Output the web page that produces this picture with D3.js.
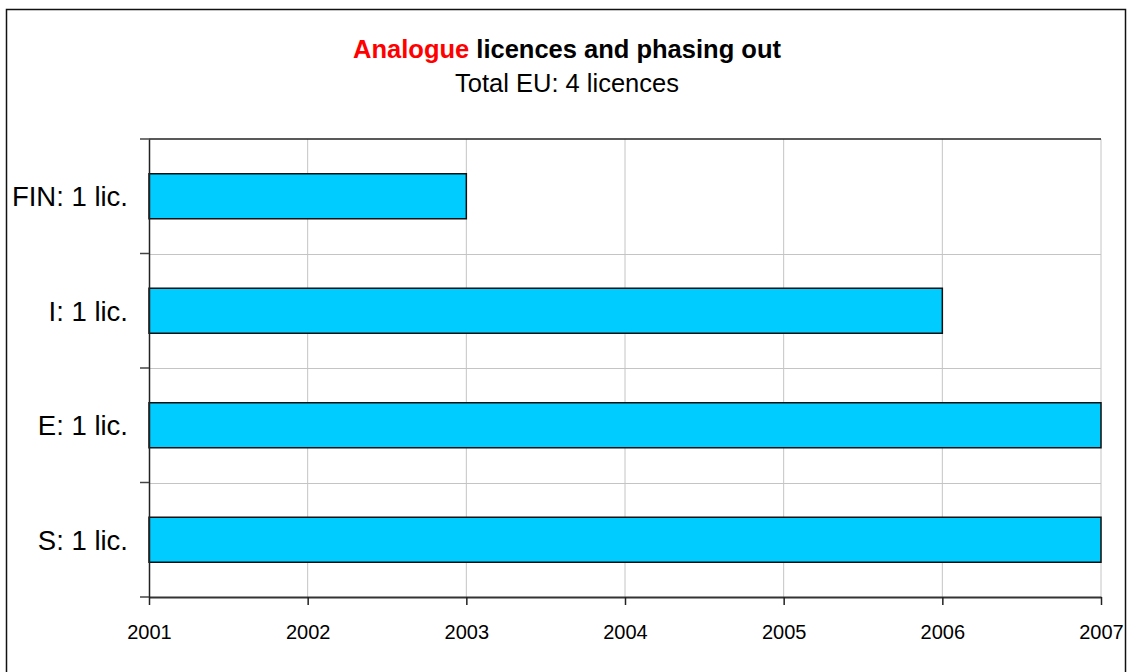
<!DOCTYPE html>
<html>
<head>
<meta charset="utf-8">
<script src="https://cdn.jsdelivr.net/npm/d3@7"></script>
<style>
  body { margin: 0; background: #fff; }
  svg { display: block; font-family: "Liberation Sans", Arial, sans-serif; }
</style>
</head>
<body>
<div id="chart"></div>
<script>
// data
var countries = ["FIN: 1 lic.", "I: 1 lic.", "E: 1 lic.", "S: 1 lic."];
var startYear = [2001, 2001, 2001, 2001];
var endYear = [2003, 2006, 2007, 2007];
var yearTicks = [2001, 2002, 2003, 2004, 2005, 2006, 2007];

var W = 1127, H = 672;
var margin = {left: 149, right: 26, top: 139, bottom: 75};

var svg = d3.select("#chart").append("svg")
    .attr("width", W)
    .attr("height", H);

// outer frame
svg.append("rect")
    .attr("x", 6.5).attr("y", 9.5)
    .attr("width", 1119).attr("height", 700)
    .attr("fill", "none")
    .attr("stroke", "#111")
    .attr("stroke-width", 1.5);

var x = d3.scaleLinear()
    .domain([2001, 2007])
    .range([margin.left, W - margin.right]);

var y = d3.scaleBand()
    .domain(countries)
    .range([margin.top, H - margin.bottom]);

// grid
svg.append("g").selectAll("line")
    .data(yearTicks.slice(1))
    .enter().append("line")
    .attr("x1", function(d) { return x(d); })
    .attr("x2", function(d) { return x(d); })
    .attr("y1", y.range()[0])
    .attr("y2", y.range()[1])
    .attr("stroke", "#c4c4c4")
    .attr("stroke-width", 1);

svg.append("g").selectAll("line")
    .data(countries.slice(1))
    .enter().append("line")
    .attr("x1", x.range()[0])
    .attr("x2", x.range()[1])
    .attr("y1", function(d) { return Math.round(y(d)) + 0.5; })
    .attr("y2", function(d) { return Math.round(y(d)) + 0.5; })
    .attr("stroke", "#c4c4c4")
    .attr("stroke-width", 1);

// plot border top
svg.append("line")
    .attr("x1", x.range()[0]).attr("x2", x.range()[1])
    .attr("y1", margin.top).attr("y2", margin.top)
    .attr("stroke", "#222").attr("stroke-width", 1.5);

// bars
var barH = 45;
svg.append("g").selectAll("rect")
    .data(countries)
    .enter().append("rect")
    .attr("x", function(d, i) { return x(startYear[i]); })
    .attr("y", function(d) { return y(d) + (y.bandwidth() - barH) / 2; })
    .attr("width", function(d, i) { return x(endYear[i]) - x(startYear[i]); })
    .attr("height", barH)
    .attr("fill", "#00ccff")
    .attr("stroke", "#111")
    .attr("stroke-width", 1.5);

// x axis
var xAxis = d3.axisBottom(x)
    .tickValues(yearTicks)
    .tickFormat(d3.format("d"))
    .tickSize(8)
    .tickSizeOuter(0);

var gx = svg.append("g")
    .attr("transform", "translate(0," + (H - margin.bottom) + ")")
    .call(xAxis);
gx.select(".domain").attr("stroke", "#333").attr("stroke-width", 2);
gx.selectAll(".tick line").attr("stroke", "#222").attr("stroke-width", 1.5);
gx.selectAll("text")
    .attr("y", 35)
    .attr("dy", "0.35em")
    .style("font-size", "20px")
    .attr("fill", "#000");

// y axis
var yAxis = d3.axisLeft(y).tickSize(0).tickPadding(21);
var gy = svg.append("g")
    .attr("transform", "translate(" + margin.left + ",0)")
    .call(yAxis);
gy.select(".domain").attr("stroke", "#222").attr("stroke-width", 1.5);
gy.selectAll("text")
    .attr("dy", "0.36em")
    .style("font-size", "27.5px")
    .attr("fill", "#000");

// category boundary ticks
var bounds = countries.map(function(d) { return y(d); }).concat([y.range()[1]]);
svg.append("g").selectAll("line")
    .data(bounds)
    .enter().append("line")
    .attr("x1", margin.left - 9).attr("x2", margin.left)
    .attr("y1", function(d) { return d; })
    .attr("y2", function(d) { return d; })
    .attr("stroke", "#444")
    .attr("stroke-width", 1.5);

// titles
var title = svg.append("text")
    .attr("x", 567).attr("y", 58)
    .attr("text-anchor", "middle")
    .style("font-size", "25.5px")
    .style("font-weight", "bold");
title.append("tspan").attr("fill", "#ff0000").text("Analogue");
title.append("tspan").attr("fill", "#000").text(" licences and phasing out");

svg.append("text")
    .attr("x", 567).attr("y", 92)
    .attr("text-anchor", "middle")
    .style("font-size", "25.5px")
    .attr("fill", "#000")
    .text("Total EU: 4 licences");
</script>
</body>
</html>
